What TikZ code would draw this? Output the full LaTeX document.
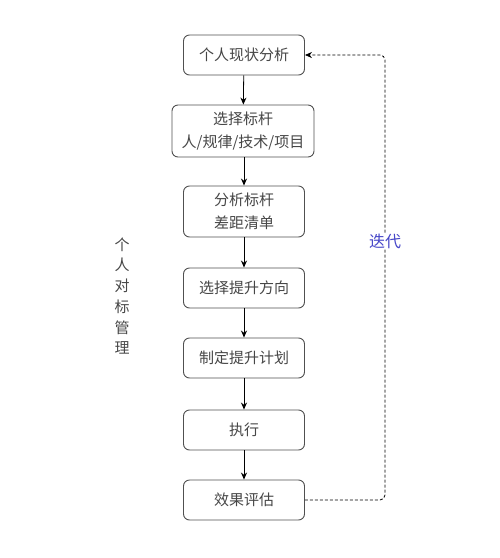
\documentclass[tikz,border=0pt]{standalone}
\usepackage{fontspec}
\newfontfamily\cjk{Noto Sans CJK SC}
\usepackage{tikz}
\usetikzlibrary{arrows.meta, positioning, calc}
\definecolor{boxline}{RGB}{80,80,80}
\definecolor{boxtext}{RGB}{70,70,70}
\definecolor{looptext}{RGB}{70,70,200}

\begin{document}
\begin{tikzpicture}[>={Stealth[length=7pt,width=6pt]}, x=1pt, y=-1pt,
  stage/.style={draw=boxline, line width=0.9pt, rounded corners=6pt, fill=white,
    minimum width=121pt, minimum height=40pt, inner sep=0pt, align=center,
    text=boxtext, font=\cjk\fontsize{15}{23}\selectfont},
  flow/.style={->, line width=0.8pt}]
  \useasboundingbox (0,0) rectangle (500,558);
  \node[stage] (status) at (244,55) {个人现状分析};
  \node[stage, minimum width=142pt, minimum height=52pt] (pick) at (243,131) {选择标杆\\人/规律/技术/项目};
  \node[stage, minimum height=51pt] (gap) at (244,211.5) {分析标杆\\差距清单};
  \node[stage] (dir) at (244,288) {选择提升方向};
  \node[stage] (plan) at (244,358) {制定提升计划};
  \node[stage] (run) at (244,430) {执行};
  \node[stage] (eval) at (244,500) {效果评估};
  \draw[flow] (status) -- (pick);
  \draw[flow] (pick.south -| gap) -- (gap);
  \draw[flow] (gap) -- (dir);
  \draw[flow] (dir) -- (plan);
  \draw[flow] (plan) -- (run);
  \draw[flow] (run) -- (eval);
  \coordinate (loopbot) at (385,500);
  \coordinate (looptop) at (385,55);
  \draw[->, dash pattern=on 3pt off 2pt, line width=0.8pt, rounded corners=5pt] (eval) -- (loopbot) -- (looptop) -- (status);
  \node[fill=white, inner sep=1pt, text=looptext, font=\cjk\fontsize{16}{18}\selectfont] (iter) at (385,241) {迭代};
  \node[text=boxtext, align=center, font=\cjk\fontsize{15}{20.7}\selectfont] (side) at (122,296) {个\\人\\对\\标\\管\\理};
\end{tikzpicture}
\end{document}
